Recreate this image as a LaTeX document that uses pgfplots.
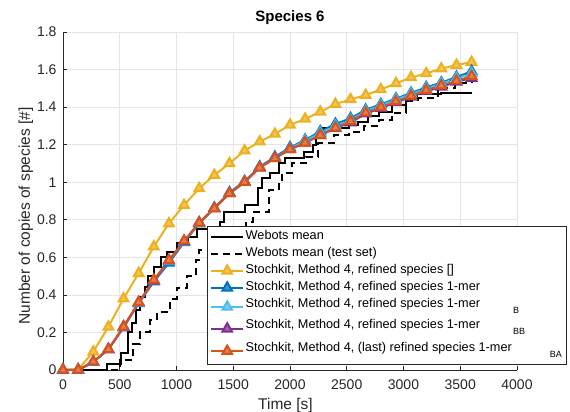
\documentclass[border=0pt]{standalone}
\usepackage{fontspec}
\setmainfont{Liberation Sans}
\usepackage{pgfplots}
\pgfplotsset{compat=1.18}
\definecolor{mblue}{rgb}{0,0.447,0.741}
\definecolor{mlblue}{rgb}{0.301,0.745,0.933}
\definecolor{mpurple}{rgb}{0.494,0.184,0.556}
\definecolor{morange}{rgb}{0.85,0.325,0.098}
\definecolor{myellow}{rgb}{0.929,0.694,0.125}
\definecolor{axgray}{rgb}{0.15,0.15,0.15}
\pgfplotsset{tri/.style={#1, line width=2pt, mark=triangle*, mark size=5.5pt, mark options={solid, draw=#1, fill=#1!75!white, line width=2pt}}}
\newcommand{\sub}[1]{\raisebox{-6pt}{\fontsize{9}{10}\selectfont #1}}
\begin{document}
\begin{tikzpicture}
\begin{axis}[
 scale only axis, width=454pt, height=338pt,
 xmin=0, xmax=4000, ymin=0, ymax=1.8,
 xtick={0,500,1000,1500,2000,2500,3000,3500,4000},
 ytick={0,0.2,0.4,0.6,0.8,1,1.2,1.4,1.6,1.8},
 yticklabels={0,0.2,0.4,0.6,0.8,1,1.2,1.4,1.6,1.8},
 scaled x ticks=false,
 /pgf/number format/assume math mode=true,
 /pgf/number format/1000 sep={},
 grid=major, major grid style={color=black!10, line width=0.6pt},
 axis x line*=bottom, axis y line*=left,
 axis line style={axgray, line width=0.6pt, -},
 tick style={axgray, line width=0.6pt}, tick align=inside, major tick length=4pt,
 tick label style={font=\fontsize{14}{16}\selectfont, text=axgray},
 xticklabel style={yshift=-6pt},
 yticklabel style={xshift=-3pt},
 xlabel={Time [s]}, ylabel={Number of copies of species [\#]},
 xlabel style={at={(axis description cs:0.49,-0.104)}, anchor=center, font=\fontsize{15.5}{18}\selectfont, text=axgray},
 ylabel style={at={(axis description cs:-0.082,0.456)}, anchor=center, font=\fontsize{15.5}{18}\selectfont, text=axgray},
 title={Species 6},
 title style={at={(axis description cs:0.5,1.026)}, anchor=center, yshift=0pt, font=\fontsize{15}{18}\selectfont\bfseries},
 clip=false,
 legend style={at={(axis description cs:0.317,0.426)}, anchor=north west,
   draw=axgray, line width=0.6pt, fill=white, font=\fontsize{12.7}{14}\selectfont,
   inner xsep=3pt, inner ysep=2pt, row sep=0pt,
   nodes={inner sep=1.5pt, text depth={}}},
 legend cell align=left,
 legend image code/.code={\draw[mark repeat=2,mark phase=2] plot coordinates {(0pt,0pt) (16pt,0pt) (32pt,0pt)};},
]
\addplot[black, line width=2pt, const plot] coordinates {
(0,0) (385,0.03) (515,0.09) (575,0.2) (610,0.25) (640,0.32) (675,0.39) (720,0.44) (745,0.5) (800,0.55) (860,0.6) (920,0.63) (1000,0.675) (1100,0.71) (1180,0.75) (1380,0.79) (1420,0.84) (1600,0.88) (1720,0.97) (1750,1.02) (1820,1.05) (1900,1.10) (1960,1.13) (2120,1.16) (2200,1.2) (2230,1.25) (2280,1.29) (2520,1.305) (2600,1.32) (2690,1.35) (2780,1.375) (2900,1.41) (3020,1.45) (3115,1.468) (3330,1.475) (3600,1.475)};
\addlegendentry{Webots mean\strut}
\addplot[black, line width=2pt, const plot, dash pattern=on 7pt off 5pt] coordinates {
(0,0) (500,0.053) (615,0.14) (675,0.2) (763,0.266) (825,0.31) (940,0.38) (1000,0.435) (1090,0.5) (1175,0.585) (1200,0.64) (1320,0.655) (1490,0.71) (1610,0.79) (1670,0.84) (1815,0.96) (1900,1.0) (1930,1.05) (2020,1.1) (2140,1.135) (2250,1.21) (2390,1.25) (2520,1.27) (2650,1.3) (2780,1.33) (2900,1.37) (3020,1.43) (3130,1.45) (3300,1.5) (3450,1.53) (3600,1.545)};
\addlegendentry{Webots mean (test set)\strut}
\addplot[tri=myellow] coordinates {
(0,0) (133.3,0.003) (266.7,0.097) (400,0.23) (533.3,0.38) (666.7,0.515) (800,0.657) (933.3,0.78) (1066.7,0.878) (1200,0.967) (1333.3,1.038) (1466.7,1.10) (1600,1.168) (1733.3,1.216) (1866.7,1.257) (2000,1.305) (2133.3,1.337) (2266.7,1.375) (2400,1.416) (2533.3,1.441) (2666.7,1.464) (2800,1.494) (2933.3,1.526) (3066.7,1.558) (3200,1.579) (3333.3,1.605) (3466.7,1.624) (3600,1.64)};
\addlegendentry{Stochkit, Method 4, refined species []\strut}
\addplot[tri=mblue] coordinates {
(0,0) (133.3,0) (266.7,0.042) (400,0.11) (533.3,0.225) (666.7,0.355) (800,0.47) (933.3,0.57) (1066.7,0.68) (1200,0.78) (1333.3,0.862) (1466.7,0.945) (1600,1.005) (1733.3,1.082) (1866.7,1.135) (2000,1.185) (2133.3,1.225) (2266.7,1.27) (2400,1.31) (2533.3,1.34) (2666.7,1.385) (2800,1.415) (2933.3,1.445) (3066.7,1.475) (3200,1.505) (3333.3,1.53) (3466.7,1.56) (3600,1.59)};
\addlegendentry{Stochkit, Method 4, refined species 1-mer\strut}
\addplot[tri=mlblue] coordinates {
(0,0) (133.3,0) (266.7,0.043) (400,0.11) (533.3,0.228) (666.7,0.357) (800,0.475) (933.3,0.578) (1066.7,0.684) (1200,0.782) (1333.3,0.86) (1466.7,0.942) (1600,1.002) (1733.3,1.08) (1866.7,1.13) (2000,1.18) (2133.3,1.22) (2266.7,1.262) (2400,1.30) (2533.3,1.332) (2666.7,1.378) (2800,1.41) (2933.3,1.44) (3066.7,1.47) (3200,1.498) (3333.3,1.525) (3466.7,1.553) (3600,1.58)};
\addlegendentry{Stochkit, Method 4, refined species 1-mer\strut\rlap{\hspace{33pt}\sub{B}}\rule[-8.5pt]{0pt}{1pt}}
\addplot[tri=mpurple] coordinates {
(0,0) (133.3,0) (266.7,0.044) (400,0.11) (533.3,0.23) (666.7,0.36) (800,0.475) (933.3,0.583) (1066.7,0.686) (1200,0.785) (1333.3,0.862) (1466.7,0.94) (1600,1.0) (1733.3,1.078) (1866.7,1.128) (2000,1.175) (2133.3,1.21) (2266.7,1.25) (2400,1.288) (2533.3,1.318) (2666.7,1.365) (2800,1.395) (2933.3,1.425) (3066.7,1.455) (3200,1.485) (3333.3,1.508) (3466.7,1.535) (3600,1.555)};
\addlegendentry{Stochkit, Method 4, refined species 1-mer\strut\rlap{\hspace{33pt}\sub{BB}}\rule[-9.5pt]{0pt}{1pt}}
\addplot[tri=morange] coordinates {
(0,0) (133.3,0) (266.7,0.044) (400,0.11) (533.3,0.23) (666.7,0.36) (800,0.48) (933.3,0.585) (1066.7,0.687) (1200,0.784) (1333.3,0.86) (1466.7,0.94) (1600,1.0) (1733.3,1.077) (1866.7,1.127) (2000,1.175) (2133.3,1.21) (2266.7,1.25) (2400,1.29) (2533.3,1.325) (2666.7,1.37) (2800,1.40) (2933.3,1.43) (3066.7,1.46) (3200,1.49) (3333.3,1.515) (3466.7,1.54) (3600,1.565)};
\addlegendentry{Stochkit, Method 4, (last) refined species 1-mer\strut\hspace{38pt}\sub{BA}\rule[-9.5pt]{0pt}{1pt}}
\end{axis}
\pgfresetboundingbox
\path[use as bounding box] (-63pt,-42pt) rectangle (507pt,370pt);
\end{tikzpicture}
\end{document}
